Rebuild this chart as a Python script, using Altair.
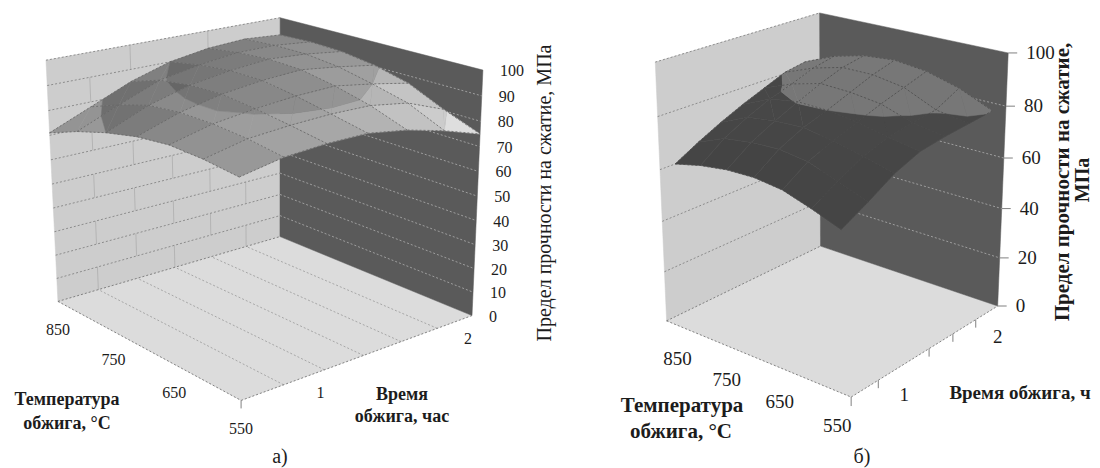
import altair as alt
import numpy as np
import pandas as pd

# ---------- values ----------
TEMPS = [550, 600, 650, 700, 750, 800, 850]
TIMES = [0.5, 0.75, 1.0, 1.25, 1.5, 1.75, 2.0]
Z_A = [
    [82.5, 85.5, 86.5, 86.5, 84.0, 80.0, 75.0],
    [84.0, 87.5, 88.7, 89.3, 89.0, 86.5, 80.5],
    [84.5, 88.5, 90.6, 92.0, 92.5, 90.0, 87.0],
    [83.0, 88.5, 92.0, 94.0, 95.0, 93.0, 90.5],
    [80.0, 87.0, 91.5, 94.0, 95.5, 94.5, 92.5],
    [76.0, 83.0, 89.5, 92.5, 94.5, 94.5, 93.0],
    [71.0, 78.0, 85.0, 90.0, 92.6, 93.6, 92.5],
]
Z_B = [
    [55.5, 62.0, 69.0, 74.0, 76.5, 78.5, 80.5],
    [59.5, 66.0, 72.0, 76.0, 78.5, 80.5, 86.0],
    [63.0, 70.0, 74.5, 78.5, 82.5, 86.0, 89.5],
    [64.3, 71.5, 76.5, 80.0, 84.0, 88.0, 91.0],
    [64.0, 71.0, 76.0, 80.3, 84.5, 88.0, 90.0],
    [62.5, 69.5, 74.5, 78.5, 81.5, 85.0, 87.0],
    [60.0, 65.0, 69.5, 73.5, 77.0, 80.5, 82.0],
]
Z_TICKS_A = [0, 10, 20, 30, 40, 50, 60, 70, 80, 90, 100]
Z_TICKS_B = [0, 20, 40, 60, 80, 100]
T_LABELS = [550, 650, 750, 850]
TIME_LABELS = [1, 2]
Z_TITLE = "Предел прочности на сжатие, МПа"

# ---------- camera calibration of the two 3D boxes (picture pixels) ----------
CAM_A = {(0,0,0):(241,400),(1,0,0):(58,302),(1,1,0):(280,236),(0,1,0):(472,316),
         (1,0,1):(46,60),(1,1,1):(280,18),(0,1,1):(483,70)}
CAM_B = {(0,0,0):(851,397),(1,0,0):(667,321),(1,1,0):(820,246),(0,1,0):(998,306),
         (1,0,1):(655,62),(1,1,1):(820,13),(0,1,1):(1008,53)}
# the surface of б) stands off the walls: (s,w) of its corners front, left, right, back
INSET_A = [(0,0),(1,0),(0,1),(1,1)]
INSET_B = [(.12,.085),(1,.085),(0,.9),(1,.9)]


def fit(cam):
    A, b = [], []
    for (X, Y, Z), (x, y) in cam.items():
        A.append([X, Y, Z, 1, 0, 0, 0, 0, -x*X, -x*Y, -x*Z]); b.append(x)
        A.append([0, 0, 0, 0, X, Y, Z, 1, -y*X, -y*Y, -y*Z]); b.append(y)
    p = np.linalg.lstsq(np.array(A, float), np.array(b, float), rcond=None)[0]
    return np.append(p, 1).reshape(3, 4)


def project(P, s, w, z):
    h = P @ np.array([s, w, z/100.0, 1.0])
    return float(h[0]/h[2]), float(h[1]/h[2])


def poly_feature(pts, fill):
    ring = [list(p) for p in pts] + [list(pts[0])]
    return {"type": "Feature", "geometry": {"type": "Polygon", "coordinates": [ring]},
            "properties": {"fill": fill}}


def gray(v):
    v = int(max(0, min(222, round(v))))
    return "#%02x%02x%02x" % (v, v, v)


def clip(poly, level, keep_above):
    out = []
    n = len(poly)
    for i in range(n):
        a, b = poly[i], poly[(i+1) % n]
        ina = a[2] >= level if keep_above else a[2] <= level
        inb = b[2] >= level if keep_above else b[2] <= level
        if ina:
            out.append(a)
        if ina != inb:
            t = (level-a[2])/(b[2]-a[2])
            out.append(tuple(a[k]+t*(b[k]-a[k]) for k in range(3)))
    return out


def build(Z, cam, inset, bands, k1, k2, mesh_color):
    P = fit(cam)
    (s00, w00), (s10, w10), (s01, w01), (s11, w11) = inset

    def node(i, j):
        a, b = i/6, j/6
        s = (1-a)*(1-b)*s00 + a*(1-b)*s10 + (1-a)*b*s01 + a*b*s11
        w = (1-a)*(1-b)*w00 + a*(1-b)*w10 + (1-a)*b*w01 + a*b*w11
        return (s, w, Z[i][j])
    feats = []
    for i in range(6):
        for j in range(6):
            dzu = (Z[i+1][j]+Z[i+1][j+1]-Z[i][j]-Z[i][j+1])/2
            dzv = (Z[i][j+1]+Z[i+1][j+1]-Z[i][j]-Z[i+1][j])/2
            c = [node(i, j), node(i+1, j), node(i+1, j+1), node(i, j+1)]
            zs = [q[2] for q in c]
            whole = [b for b in bands if b[0] <= min(zs) and max(zs) <= b[1]]
            if whole:
                feats.append(poly_feature([project(P, *q) for q in c],
                                          gray(whole[0][2] + k1*dzu - k2*dzv)))
                continue
            for tri in ([c[0], c[1], c[2]], [c[0], c[2], c[3]]):
                for lo, hi, base in bands:
                    pg = clip(clip(tri, lo, True), hi, False)
                    if len(pg) >= 3:
                        feats.append(poly_feature([project(P, *q) for q in pg],
                                                  gray(base + k1*dzu - k2*dzv)))
    mesh = []
    for i in range(7):
        for j in range(7):
            x, y = project(P, *node(i, j))
            mesh.append({"g": f"m{cam[(0,0,0)][0]}r{i}", "i": j, "x": x, "y": y, "c": mesh_color})
            mesh.append({"g": f"m{cam[(0,0,0)][0]}c{j}", "i": i, "x": x, "y": y, "c": mesh_color})
    return feats, pd.DataFrame(mesh)


def seg(P, name, a, b, color):
    rows = []
    for i, q in enumerate((a, b)):
        x, y = project(P, *q)
        rows.append({"g": name, "i": i, "x": x, "y": y, "c": color})
    return rows


# ---------- geometry ----------
PA, PB = fit(CAM_A), fit(CAM_B)


def box(P):
    c = lambda s, w, z: project(P, s, w, z)
    return [
        poly_feature([c(1,0,0), c(1,1,0), c(0,1,0), c(0,0,0)], "#dcdcdc"),
        poly_feature([c(1,0,0), c(1,1,0), c(1,1,100), c(1,0,100)], "#cdcdcd"),
        poly_feature([c(1,1,0), c(0,1,0), c(0,1,100), c(1,1,100)], "#5a5a5a"),
    ]


walls = box(PA) + box(PB)
surf_a, mesh_a = build(Z_A, CAM_A, INSET_A,
                       [(0, 80, 196), (80, 90, 158), (90, 101, 136)], 4, 4, "#646464")
surf_b, mesh_b = build(Z_B, CAM_B, INSET_B,
                       [(0, 80, 74), (80, 101, 122)], 0, 0.8, "#4d4d4d")
surf = surf_a + surf_b
mesh = pd.concat([mesh_a, mesh_b])

dash, solid = [], []
for z in Z_TICKS_A[1:]:
    dash += seg(PA, f"al{z}", (1,0,z), (1,1,z), "#858585")
    dash += seg(PA, f"ar{z}", (1,1,z), (0,1,z), "#a5a5a5") if z < 100 else []
for k in range(1, 6):
    dash += seg(PA, f"af{k}", (0,k/6,0), (1,k/6,0), "#a0a0a0")
for n, (a, b) in enumerate([((1,0,0),(0,0,0)), ((0,0,0),(0,1,0)), ((1,0,0),(1,1,0))]):
    dash += seg(PA, f"ae{n}", a, b, "#777777")
    dash += seg(PB, f"be{n}", a, b, "#777777")
for z in Z_TICKS_B[1:]:
    dash += seg(PB, f"bl{z}", (1,0,z), (1,1,z), "#858585")
    dash += seg(PB, f"br{z}", (1,1,z), (0,1,z), "#a5a5a5") if z < 100 else []

for b_i in range(10):
    for k in ([2, 4] if b_i % 2 else [1, 3, 5]):
        solid += seg(PA, f"av{b_i}{k}", (1,k/6,b_i*10), (1,k/6,b_i*10+10), "#adadad")

ticks = []


def tick(P, name, q, dx, dy):
    x, y = project(P, *q)
    ticks.append({"g": name, "i": 0, "x": x, "y": y, "c": "#808080"})
    ticks.append({"g": name, "i": 1, "x": x+dx, "y": y+dy, "c": "#808080"})


tick(PA, "ta", (0,0,0), 0, 8)
tick(PB, "tb", (0,0,0), 0, 9)
for k in (1, 3, 4, 5):
    tick(PB, f"tb{k}", (0,k/6,0), 0, 8)
for z in Z_TICKS_B:
    tick(PB, f"tz{z}", (0,1,z), 9, 0)

# ---------- text ----------
labels = []


def lab(P, text, q, dx, dy, fs, kind):
    x, y = project(P, *q)
    labels.append({"t": str(text), "x": x+dx, "y": y+dy, "fs": fs, "k": kind})


for z in Z_TICKS_A:
    lab(PA, z, (0,1,z), 17, 1, 16, "left")
for z in Z_TICKS_B:
    lab(PB, z, (0,1,z), 18, 0, 19, "left")
for T in T_LABELS:
    s = (T-550)/300
    lab(PA, T, (s,0,0), 0, 29, 16, "mid")
    lab(PB, T, (s,0,0), -14+25*s, 29+9*s, 19, "mid")
for t in TIME_LABELS:
    w = (t-TIMES[0])/(TIMES[-1]-TIMES[0])
    lab(PA, t, (0,w,0), -4, 23, 16, "mid")
    lab(PB, t, (0,w,0), 0, 31, 19, "mid")

fixed = [
    ("Температура", 67, 400, 18, "bold"), ("обжига, °С", 67, 424, 18, "bold"),
    ("Время", 402, 395, 18, "bold"), ("обжига, час", 402, 417, 18, "bold"),
    ("Температура", 682, 406, 21, "bold"), ("обжига, °С", 681, 432, 21, "bold"),
    ("Время обжига, ч", 1020, 393, 19, "bold"),
    ("а)", 280, 457, 20, "mid"), ("б)", 862, 457, 20, "mid"),
]
for t, x, y, fs, k in fixed:
    labels.append({"t": t, "x": x, "y": y, "fs": fs, "k": k})
vertical = pd.DataFrame([
    {"t": Z_TITLE, "x": 545, "y": 193, "fs": 20, "w": "normal"},
    {"t": Z_TITLE.rsplit(" ", 1)[0], "x": 1063, "y": 182, "fs": 21, "w": "bold"},
    {"t": Z_TITLE.rsplit(" ", 1)[1], "x": 1083, "y": 180, "fs": 20, "w": "bold"},
])
labels = pd.DataFrame(labels)

# ---------- chart ----------
FONT = "Liberation Serif"
X = alt.X("x:Q", scale=alt.Scale(domain=[8, 1092], range=[0, 1084], nice=False, zero=False), axis=None)
Y = alt.Y("y:Q", scale=alt.Scale(domain=[8, 468], range=[0, 460], nice=False, zero=False), axis=None)


def geo(features):
    return alt.Chart(alt.Data(values=features)).mark_geoshape(strokeWidth=0.5).encode(
        color=alt.Color("properties.fill:N", scale=None),
        stroke=alt.Stroke("properties.fill:N", scale=None),
    ).project(type="identity", scale=1, translate=[-8, -8])


def lines(df, **mark):
    return alt.Chart(df).mark_line(**mark).encode(
        x=X, y=Y, detail="g:N", order="i:Q", color=alt.Color("c:N", scale=None))


def texts(df, align, bold=False, angle=0):
    return alt.Chart(df).mark_text(font=FONT, align=align, baseline="middle", color="#1c1c1c",
                                   fontWeight="bold" if bold else "normal", angle=angle).encode(
        x=X, y=Y, text="t:N", size=alt.Size("fs:Q", scale=None))


chart = alt.layer(
    geo(walls),
    lines(pd.DataFrame(solid), strokeWidth=0.8),
    lines(pd.DataFrame(dash), strokeWidth=0.9, strokeDash=[2, 2]),
    geo(surf),
    lines(mesh, strokeWidth=0.8, strokeDash=[2, 2]),
    lines(pd.DataFrame(ticks), strokeWidth=1),
    texts(labels[labels.k == "left"], "left"),
    texts(labels[labels.k == "mid"], "center"),
    texts(labels[labels.k == "bold"], "center", bold=True),
    texts(vertical[vertical.w == "normal"], "center", angle=270),
    texts(vertical[vertical.w == "bold"], "center", bold=True, angle=270),
).properties(width=1084, height=460, padding=0,
             autosize=alt.AutoSizeParams(type="none")).configure_view(stroke=None)

chart.save("out.html", embed_options={"renderer": "svg", "actions": False})
